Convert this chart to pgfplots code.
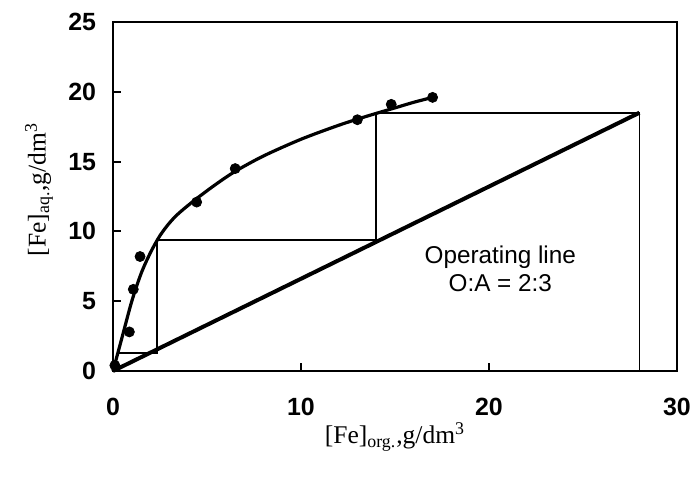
\documentclass[border=0pt]{standalone}
\usepackage{pgfplots}
\pgfplotsset{compat=1.18}
\usepackage{fontspec}
\setmainfont{Liberation Serif}
\newfontfamily\arial{Liberation Sans}
\begin{document}
\begin{tikzpicture}
\begin{axis}[
  scale only axis, width=282bp, height=174.5bp,
  xmin=0, xmax=30, ymin=0, ymax=25,
  xtick={0,10,20,30}, ytick={0,5,10,15,20,25},
  tick align=inside, xtick pos=bottom, ytick pos=left,
  major tick length=4bp,
  axis line style={line width=1.3bp},
  tick style={line width=1bp, black},
  ticklabel style={font=\arial\bfseries\fontsize{12.5}{14}\selectfont},
  /pgf/number format/assume math mode=true,
  xticklabel style={yshift=-10bp},
  yticklabel style={xshift=-5bp},
  xlabel={[Fe]\textsubscript{org.},g/dm\textsuperscript{3}},
  ylabel={[Fe]\textsubscript{aq.},g/dm\textsuperscript{3}},
  label style={font=\fontsize{12.8}{14}\selectfont},
  xlabel style={at={(axis description cs:0.5,0)}, anchor=center, yshift=-33bp},
  ylabel style={at={(axis description cs:0,0.52)}, anchor=center, yshift=37bp},
  clip=false,
]
% equilibrium curve
\addplot[black, line width=1.6bp, smooth, tension=0.5] coordinates {
 (0,0) (0.5,2.5) (1.0,5.0) (1.5,7.0) (2.0,8.5) (2.5,9.7) (3.0,10.6) (3.5,11.3) (4.4,12.3)
 (5.5,13.4) (6.5,14.3) (8,15.4) (10,16.6) (12,17.6) (13.5,18.25) (15,18.85) (16,19.25) (17,19.6)};
% data points
\addplot[only marks, mark=*, mark size=2.5bp, black] coordinates {
 (0.1,0.4) (0.87,2.8) (1.08,5.85) (1.44,8.2) (4.45,12.1) (6.5,14.5) (13.0,18.0) (14.8,19.1) (17.0,19.6)};
% operating line
\addplot[black, line width=2bp] coordinates {(0,0) (28,18.5)};
% staircase
\addplot[black, line width=0.8bp] coordinates {
 (28,0) (28,18.5) (14,18.5) (14,9.4) (2.35,9.4) (2.35,1.3) (0.25,1.3)};
\node[font=\arial\fontsize{12.2}{14}\selectfont, align=center] at (axis cs:20.6,7.3)
  {Operating line\\O:A = 2:3};
\end{axis}
\pgfresetboundingbox
\path ([shift={(-56.5bp,-55.5bp)}]current axis.south west) rectangle ([shift={(7.5bp,11bp)}]current axis.north east);
\end{tikzpicture}
\end{document}
